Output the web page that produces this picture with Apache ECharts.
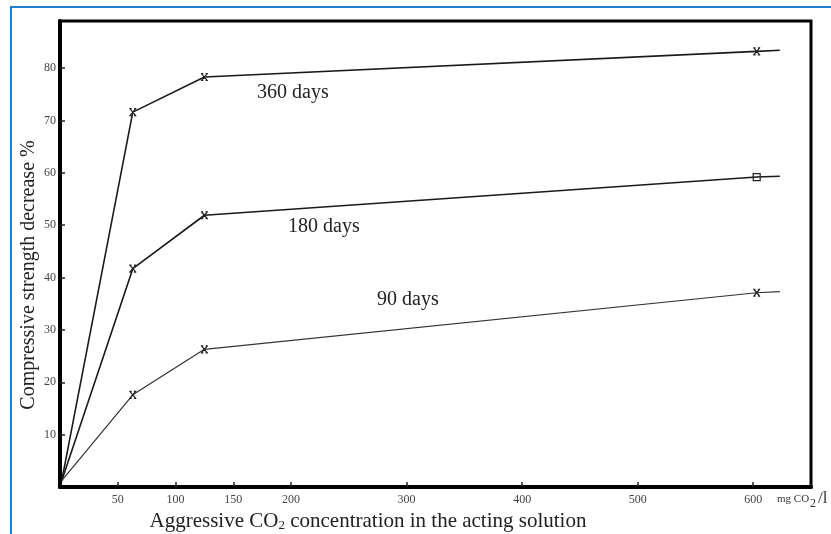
<!DOCTYPE html>
<html>
<head>
<meta charset="utf-8">
<script src="https://cdn.jsdelivr.net/npm/echarts@6/dist/echarts.min.js"></script>
<style>
  html, body { margin: 0; padding: 0; background: #fff; }
  #chart { width: 831px; height: 534px; }
</style>
</head>
<body>
<div id="chart"></div>
<script>
// CO2 concentration (mg/l) at each measured point; last entry is the line run-out
const concentration = [1.5, 63, 125, 603, 623];
// Compressive strength decrease (%) per exposure time
const days360 = [1.2, 71.6, 78.3, 83.2, 83.4];
const days180 = [1.2, 41.7, 51.9, 59.2, 59.35];
const days90  = [1.2, 17.6, 26.3, 37.1, 37.3];

const xTicks = [50, 100, 150, 200, 300, 400, 500, 600];
const yTicks = [10, 20, 30, 40, 50, 60, 70, 80];

const seriesLabels = ['360 days', '180 days', '90 days'];

const serif = "'Liberation Serif', 'DejaVu Serif', serif";
const crossPath = 'path://M0,0L10,10M0,10L10,0M-1,0L3,0M7,0L11,0M-1,10L3,10M7,10L11,10';
const squarePath = 'path://M0,0L10,0L10,10L0,10Z';

function buildData(values, lastMidSymbol) {
  return values.map((v, i) => {
    const item = { value: [concentration[i], v] };
    if (i === 0 || i === values.length - 1) item.symbol = 'none';
    if (i === 3 && lastMidSymbol) item.symbol = lastMidSymbol;
    return item;
  });
}

function lineSeries(name, values, width, color, lastMidSymbol) {
  return {
    name: name,
    type: 'line',
    data: buildData(values, lastMidSymbol),
    symbol: crossPath,
    symbolSize: 7,
    showAllSymbol: true,
    lineStyle: { color: color, width: width },
    itemStyle: { color: 'rgba(0,0,0,0)', borderColor: '#222', borderWidth: 1.2 },
    z: 3
  };
}

const chart = echarts.init(document.getElementById('chart'), null, { renderer: 'canvas' });

chart.setOption({
  animation: false,
  backgroundColor: '#fff',
  grid: {
    left: 60, right: 20, top: 21, bottom: 47,
    show: true, borderColor: '#000', borderWidth: 3, backgroundColor: 'transparent'
  },
  xAxis: {
    type: 'value',
    min: 0, max: 650,
    axisLine: { show: true, lineStyle: { color: '#000', width: 4 } },
    axisTick: { show: true, inside: true, length: 5, customValues: xTicks, lineStyle: { color: '#222', width: 1.5 } },
    axisLabel: { customValues: xTicks, margin: 7, color: '#444', fontFamily: serif, fontSize: 12 },
    splitLine: { show: false }
  },
  yAxis: {
    type: 'value',
    min: 0, max: 89,
    axisLine: { show: true, lineStyle: { color: '#000', width: 4 } },
    axisTick: { show: true, inside: true, length: 5, customValues: yTicks, lineStyle: { color: '#222', width: 1.5 } },
    axisLabel: { customValues: yTicks, margin: 4, color: '#444', fontFamily: serif, fontSize: 12 },
    splitLine: { show: false }
  },
  series: [
    lineSeries(seriesLabels[0], days360, 1.6, '#1a1a1a'),
    lineSeries(seriesLabels[1], days180, 1.6, '#1a1a1a', squarePath),
    lineSeries(seriesLabels[2], days90, 1.2, '#333')
  ],
  graphic: [
    // page frame
    { type: 'polyline', shape: { points: [[11, 540], [11, 7], [840, 7]] },
      style: { stroke: '#1f7fd0', lineWidth: 2, fill: null }, z: 10 },
    // curve labels
    { type: 'text', x: 257, y: 93, style: { text: seriesLabels[0], font: '20px ' + serif, fill: '#222', verticalAlign: 'middle' } },
    { type: 'text', x: 288, y: 227, style: { text: seriesLabels[1], font: '20px ' + serif, fill: '#222', verticalAlign: 'middle' } },
    { type: 'text', x: 377, y: 300, style: { text: seriesLabels[2], font: '20px ' + serif, fill: '#222', verticalAlign: 'middle' } },
    // y axis title
    { type: 'text', x: 29, y: 275, rotation: Math.PI / 2,
      style: { text: 'Compressive strength decrease %', font: '20px ' + serif, fill: '#222',
               align: 'center', verticalAlign: 'middle' } },
    // x axis title
    { type: 'text', x: 368, y: 521,
      style: { text: 'Aggressive CO{sub|2} concentration in the acting solution',
               font: '21px ' + serif, fill: '#222', align: 'center', verticalAlign: 'middle',
               rich: { sub: { font: '13px ' + serif, fill: '#222', padding: [9, 0, 0, 0] } } } },
    // unit after the last tick
    { type: 'text', x: 777, y: 499,
      style: { text: 'mg CO{sub|2}{sl|/l}', font: '11px ' + serif, fill: '#333', align: 'left', verticalAlign: 'middle',
               rich: { sub: { font: '12px ' + serif, fill: '#333', padding: [10, 1, 0, 1] },
                       sl: { font: '17px ' + serif, fill: '#333', padding: [0, 0, 0, 1] } } } }
  ]
});
</script>
</body>
</html>
